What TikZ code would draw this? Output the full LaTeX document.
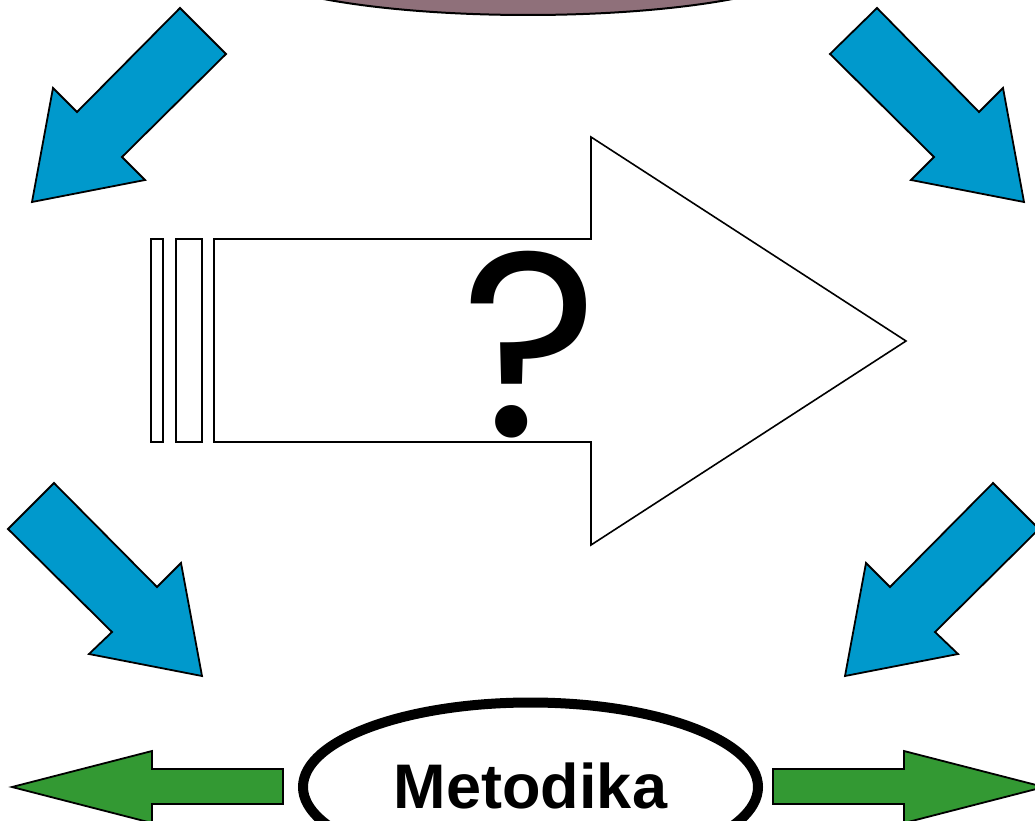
\documentclass[tikz,border=0pt]{standalone}
\usepackage{fontspec}
\setmainfont{Liberation Sans}
\newfontfamily\qfont{Poppins}
\usetikzlibrary{shapes.geometric}
\definecolor{blueA}{RGB}{0,153,204}
\definecolor{greenA}{RGB}{51,153,51}
\definecolor{mauve}{RGB}{143,112,122}
\begin{document}
\begin{tikzpicture}[x=1pt,y=-1pt,
  bluearrow/.style={fill=blueA,draw=black,line width=1.8pt,line join=miter},
  greenarrow/.style={fill=greenA,draw=black,line width=1.8pt,line join=miter},
  outline/.style={draw=black,line width=1.6pt,fill=white,line join=miter}]
\useasboundingbox (0,0) rectangle (1035,821);
\clip (0,0) rectangle (1035,821);
% top ellipse
\draw[fill=mauve,line width=2pt] (528,-40) ellipse [x radius=290, y radius=55];
% blue arrows
\draw[bluearrow] (180,8) -- (226,54) -- (122,157) -- (145,180) -- (32,202) -- (53,88) -- (77,112) -- cycle;
\draw[bluearrow] (877,8) -- (830,54) -- (934,157) -- (911,180) -- (1024,202) -- (1003,88) -- (979,112) -- cycle;
\draw[bluearrow] (993,483) -- (1039,529) -- (935,632) -- (958,654) -- (845,676) -- (866,563) -- (890,587) -- cycle;
\draw[bluearrow] (54,483) -- (8,529) -- (112,632) -- (89,654) -- (202,676) -- (181,563) -- (157,587) -- cycle;
% big white arrow
\draw[outline] (151,239) rectangle (163,442);
\draw[outline] (176,239) rectangle (202,442);
\draw[outline] (214,239) -- (591,239) -- (591,137) -- (906,341) -- (591,545) -- (591,442) -- (214,442) -- cycle;
\node[inner sep=0pt,anchor=south] (q) at (530,438) {\resizebox{!}{185pt}{\qfont ?}};
% bottom ellipse
\node[ellipse,draw=black,line width=10pt,minimum width=455pt,minimum height=169pt,inner sep=0pt,
  font=\bfseries\fontsize{63}{63}\selectfont] (met) at (530.5,787) {\raisebox{2pt}{Metodika}};
% green arrows
\draw[greenarrow] (12,787) -- (152,751) -- (152,769) -- (283,769) -- (283,804) -- (152,804) -- (152,823) -- cycle;
\draw[greenarrow] (1044,787) -- (904,751) -- (904,769) -- (773,769) -- (773,804) -- (904,804) -- (904,823) -- cycle;
\end{tikzpicture}
\end{document}
